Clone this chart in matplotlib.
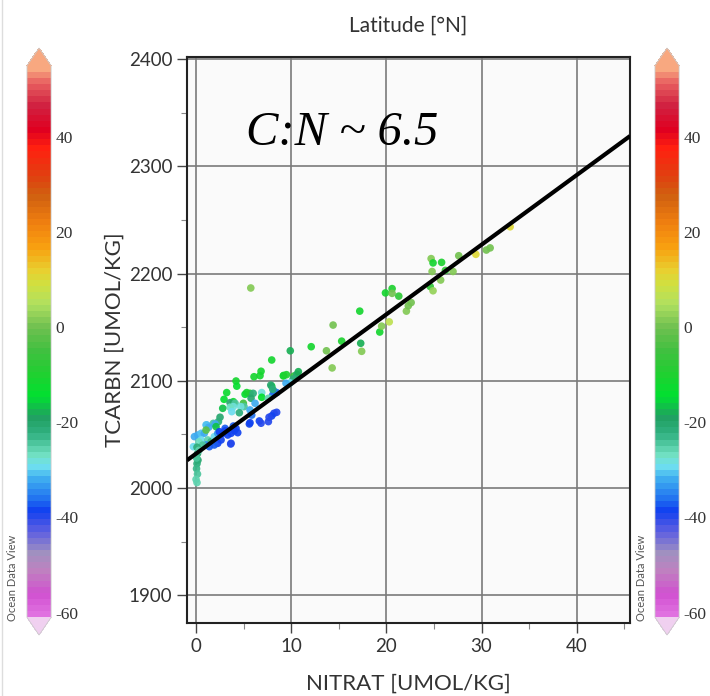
import matplotlib
matplotlib.use('Agg')
import matplotlib.pyplot as plt
import numpy as np
from matplotlib.colors import LinearSegmentedColormap, Normalize
from matplotlib.ticker import MultipleLocator
from matplotlib.lines import Line2D

# Data: nitrate, total carbon, latitude
nitrat = [5.75, 9.9, 12.1, 9.2, 13.7, 14.3, 15.3, 14.4, 17.2, 17.3, 17.4, 19.3, 19.5, 20.3,
          19.9, 20.6, 20.6, 21.3, 22.1, 22.3, 22.6, 24.7, 24.9, 24.8, 24.6, 24.9, 25.8, 26.2,
          27.0, 27.6, 25.7, 29.4, 30.5, 30.9, 33.0,
          7.95, 6.83, 6.72, 6.09, 4.2, 4.28, 9.17, 9.5, 10.3, 10.6, 10.75, 10.2, 9.87, 9.45,
          8.2, 7.95, 8.06, 8.47, 7.85, 8.06, 3.22, 2.94, 3.92, 3.57, 4.1, 5.15, 5.32, 5.67,
          6.0, 6.9, 5.78, 6.2, 6.9, 7.6, 4.97, 5.04, 4.69, 3.92, 3.57, 2.8, 3.75, 4.55, 5.67,
          2.52, 2.35, 1.82, 1.12, 2.0,
          8.47, 8.19, 7.95, 7.67, 7.6, 6.65, 6.83, 5.67, 3.92, 4.2, 3.05, 5.85, 5.6, 3.64,
          0.18, 0.53, 0.87, 1.05, 1.33, 0.53, 1.23, 1.58, 1.92, 2.28, 2.1, 2.45, 2.8, 3.08,
          3.33, 2.63, 2.28, 1.92, 1.4, 1.05, 3.68, 4.02, 4.38, 3.68, -0.28, -0.17, 1.05, 0.3, 0.7,
          0.1, 0.15, 0.2, 0.1, 0.05, 0.15, 0.0, 0.1, 0.05, 0.3]
tcarbn = [2186.6, 2128, 2131.8, 2105, 2128, 2112, 2137, 2152, 2165, 2135, 2127.5, 2145.5, 2151, 2155,
          2182, 2186, 2181.6, 2179, 2165, 2170, 2173, 2214, 2210, 2202, 2188, 2184, 2210.5, 2203,
          2202, 2216.7, 2194, 2218, 2222, 2224, 2243.7,
          2119.4, 2108.9, 2104.8, 2103.8, 2099.8, 2095, 2104.5, 2105.7, 2104.5, 2106, 2108.5, 2101.7, 2098, 2097.7,
          2090, 2095, 2086.8, 2089, 2096, 2092, 2089, 2082.7, 2080.5, 2079.6, 2079, 2087.4, 2089, 2088.3,
          2088.3, 2089, 2083.7, 2079, 2084.6, 2083.7, 2079, 2075.9, 2075.9, 2075.9, 2075.3, 2074.3, 2071.2, 2070.2, 2072.8,
          2066, 2061.9, 2060.3, 2058.8, 2059.7,
          2070.6, 2069.7, 2067.2, 2066, 2061.9, 2062.5, 2060.4, 2060.9, 2057.8, 2055.6, 2055.6, 2068, 2059.7, 2041,
          2049.4, 2051, 2051, 2058.8, 2056.6, 2044.8, 2044.8, 2043.2, 2047.9, 2051, 2057.2, 2052.5, 2051, 2053.4,
          2049.4, 2044.8, 2041.7, 2040.1, 2038.5, 2040.1, 2051, 2053.4, 2051.6, 2041.7, 2038.5, 2047.9, 2054, 2043, 2040,
          2038, 2032, 2026, 2022.7, 2018, 2013, 2008, 2005, 2028, 2035]
latitude = [2, -18, -12, -12, 0, 1, -10, 0, -12, -18, 2, -12, 2, 7,
            -12, -10, 0, -8, 2, 0, 0, 2, -12, 1, -8, 3, -10, -6,
            2, 0, 1, 10, 0, 0, 11,
            -12, -12, -12, -12, -12, -14, -12, -10, -8, -20, -18, -22, -30, -32,
            -37, -14, -36, -36, -20, -22, -13, -14, -13, -20, -24, -14, -12, -10,
            -22, -28, -20, -32, -14, -26, -5, -24, -28, -28, -27, -16, -30, -22, -32,
            -21, -22, -24, -32, -32,
            -40, -40, -39, -40, -40, -39, -40, -38, -37, -38, -37, -36, -38, -40,
            -32, -31, -32, -31, -32, -29, -25, -23, -29, -33, -16, -38, -38, -39,
            -39, -38, -38, -37, -37, -35, -38, -38, -39, -40, -30, -32, -3, -27, -24,
            -22, -21, -20, -22, -23, -24, -25, -26, -24, -25]

# regression line C:N ~ 6.5
fit_slope = 6.5
fit_icept = 2032.0

x_ticks = [0, 10, 20, 30, 40]
y_ticks = [1900, 2000, 2100, 2200, 2300, 2400]
cb_ticks = [-60, -40, -20, 0, 20, 40]

# ODV-like palette
stops = [(-61, '#e070e0'), (-56.5, '#d050d0'), (-52, '#c080c0'), (-48, '#a090c0'),
         (-43.5, '#6060e0'), (-39, '#1040f0'), (-36.5, '#2070f0'), (-32, '#40b0f0'),
         (-29.5, '#70e0f0'), (-27, '#70e0c0'), (-22.6, '#30b080'), (-19, '#20a060'),
         (-14.6, '#00e030'), (-10, '#20d030'), (-5, '#40c040'), (0, '#70c050'),
         (5, '#b0e060'), (9, '#d0e040'), (12, '#e8d030'), (17, '#f8a010'),
         (22, '#f08010'), (28, '#d06010'), (32, '#e04010'), (38, '#ff2010'),
         (42, '#e00020'), (47, '#d02040'), (52, '#e86060'), (55, '#f8a880')]
vmin, vmax = -61, 55
cmap = LinearSegmentedColormap.from_list(
    'odv', [((v - vmin) / (vmax - vmin), c) for v, c in stops], N=90)
cmap.set_under('#f0d0f0')
cmap.set_over('#f8a880')
norm = Normalize(vmin, vmax)

plt.rcParams['font.family'] = ['Lato', 'DejaVu Sans']
plt.rcParams['axes.unicode_minus'] = False
txt = '#333333'

fig = plt.figure(figsize=(7.1, 6.96), dpi=100)
ax = fig.add_axes([0.2634, 0.1049, 0.624, 0.813])
ax.set_facecolor('#fafafa')

ax.scatter(nitrat, tcarbn, c=latitude, cmap=cmap, norm=norm, s=30,
           edgecolors='none', alpha=0.92, zorder=3)

xl = np.array([-0.95, 45.6])
ax.plot(xl, fit_icept + fit_slope * xl, color='black', lw=3, zorder=4,
        solid_capstyle='butt')

ax.set_xlim(-0.95, 45.6)
ax.set_ylim(1874, 2402)
ax.set_xticks(x_ticks)
ax.set_yticks(y_ticks)
ax.xaxis.set_minor_locator(MultipleLocator(5))
ax.yaxis.set_minor_locator(MultipleLocator(50))
ax.grid(True, which='major', color='#7a7a7a', lw=1.2, zorder=1)
ax.tick_params(which='major', direction='out', length=7, width=1, colors='#444444',
               labelcolor=txt, labelsize=13.5)
ax.tick_params(which='minor', direction='out', length=4, width=0.8, colors='#888888')
for sp in ax.spines.values():
    sp.set_linewidth(1.5)
    sp.set_color('#222222')

ax.set_xlabel('NITRAT [UMOL/KG]', fontsize=16, color=txt, labelpad=14)
ax.set_ylabel('TCARBN [UMOL/KG]', fontsize=16, color=txt, labelpad=3)
ax.set_title('Latitude [°N]', fontsize=15, color=txt, pad=18)

ax.text(5.3, 2320, 'C:N ~ 6.5', family='Liberation Serif', style='italic',
        fontsize=35, color='black', va='baseline', zorder=5)

# two colour bars, one either side
sm = plt.cm.ScalarMappable(norm=norm, cmap=cmap)
for left, odv_x in [(0.038, 0.017), (0.9225, 0.904)]:
    cax = fig.add_axes([left, 0.0876, 0.034, 0.8434])
    cb = fig.colorbar(sm, cax=cax, extend='both', extendfrac=0.032, ticks=cb_ticks)
    cb.outline.set_edgecolor('#cccccc')
    cb.outline.set_linewidth(0.6)
    cb.ax.tick_params(length=0, pad=3, labelsize=12.5, labelcolor=txt)
    for lab in cb.ax.get_yticklabels():
        lab.set_family('Liberation Serif')
    fig.text(odv_x, 0.108, 'Ocean Data View', rotation=90, fontsize=8,
             color='#555555', ha='center', va='bottom')

fig.add_artist(Line2D([0.003, 0.003], [0.0, 1.0], color='#dddddd', lw=1))

fig.savefig('out.png', dpi=100)
